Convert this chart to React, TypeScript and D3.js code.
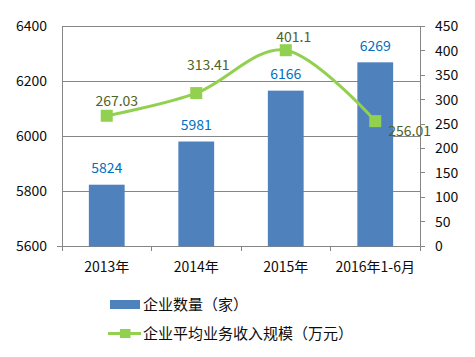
import React from "react";
import * as d3 from "d3";

const categories = ["2013年", "2014年", "2015年", "2016年1-6月"];
const companyCounts = [5824, 5981, 6166, 6269];
const avgRevenue = [267.03, 313.41, 401.1, 256.01];
const revenueLabels = ["267.03", "313.41", "401.1", "256.01"];
const leftTicks = [5600, 5800, 6000, 6200, 6400];
const rightTicks = [0, 50, 100, 150, 200, 250, 300, 350, 400, 450];
const legendNames = ["企业数量（家）", "企业平均业务收入规模（万元）"];
// label placement offsets (dx, dy, anchor) for line labels
const lineLabelPos = [
  { dx: 10, dy: -15, anchor: "middle" },
  { dx: 12, dy: -28, anchor: "middle" },
  { dx: 8, dy: -13, anchor: "middle" },
  { dx: 13, dy: 10, anchor: "start" },
];

const W = 475;
const H = 357;
const FONT = "'Noto Sans CJK SC', 'Open Sans', sans-serif";
const AXIS = "#868686";
const TEXT = "#0d0d0d";

export default function App() {
  const left = 62;
  const right = 420;
  const top = 26.3;
  const bottom = 246.3;

  const x = d3.scaleBand<string>().domain(categories).range([left, right]).paddingInner(0).paddingOuter(0);
  const yL = d3.scaleLinear().domain([5600, 6400]).range([bottom, top]);
  const yR = d3.scaleLinear().domain([0, 450]).range([bottom, top]);
  const barW = x.bandwidth() * 0.4;
  const cx = (c: string) => (x(c) as number) + x.bandwidth() / 2;

  const pts: [number, number][] = categories.map((c, i) => [cx(c), yR(avgRevenue[i])]);
  const line = d3.line().curve(d3.curveCardinal.tension(0))(pts) as string;

  return (
    <svg width={W} height={H} style={{ position: "absolute", left: 0, top: 0, background: "#fff" }} fontFamily={FONT}>
      <rect x={0} y={0} width={W} height={H} fill="#fff" />
      {/* gridlines */}
      {leftTicks.map((t) => (
        <line key={"g" + t} x1={left} x2={right} y1={yL(t)} y2={yL(t)} stroke={AXIS} strokeWidth={1} shapeRendering="crispEdges" />
      ))}
      {/* left axis */}
      <line x1={left} x2={left} y1={top} y2={bottom} stroke={AXIS} shapeRendering="crispEdges" />
      <line x1={left - 5} x2={left} y1={bottom} y2={bottom} stroke={AXIS} shapeRendering="crispEdges" />
      {leftTicks.map((t) => (
        <text key={"lt" + t} x={left - 15} y={yL(t)} dy="0.35em" textAnchor="end" fontSize={14} fill={TEXT}>
          {t}
        </text>
      ))}
      {/* right axis */}
      <line x1={right} x2={right} y1={top} y2={bottom} stroke={AXIS} shapeRendering="crispEdges" />
      {rightTicks.map((t) => (
        <g key={"rt" + t}>
          <line x1={right} x2={right + 5} y1={yR(t)} y2={yR(t)} stroke={AXIS} shapeRendering="crispEdges" />
          <text x={right + 15} y={yR(t)} dy="0.35em" textAnchor="start" fontSize={14} fill={TEXT}>
            {t}
          </text>
        </g>
      ))}
      {/* x axis */}
      <line x1={left} x2={right} y1={bottom} y2={bottom} stroke={AXIS} shapeRendering="crispEdges" />
      {categories.map((c) => (
        <line key={"xt" + c} x1={x(c) as number} x2={x(c) as number} y1={bottom} y2={bottom + 5} stroke={AXIS} shapeRendering="crispEdges" />
      ))}
      <line x1={right} x2={right} y1={bottom} y2={bottom + 5} stroke={AXIS} shapeRendering="crispEdges" />
      {categories.map((c) => (
        <text key={"xl" + c} x={cx(c)} y={bottom + 20.5} dy="0.35em" textAnchor="middle" fontSize={14} fill={TEXT}>
          {c}
        </text>
      ))}
      {/* bars */}
      {categories.map((c, i) => (
        <rect key={"b" + c} x={cx(c) - barW / 2} y={yL(companyCounts[i])} width={barW} height={bottom - yL(companyCounts[i])} fill="#4F81BD" />
      ))}
      {categories.map((c, i) => (
        <text key={"bl" + c} x={cx(c)} y={yL(companyCounts[i]) - 16.5} dy="0.35em" textAnchor="middle" fontSize={14} fill="#0070C0">
          {companyCounts[i]}
        </text>
      ))}
      {/* line */}
      <path d={line} fill="none" stroke="#92D050" strokeWidth={3} />
      {pts.map((p, i) => (
        <rect key={"m" + i} x={p[0] - 6} y={p[1] - 6} width={12} height={12} fill="#92D050" />
      ))}
      {pts.map((p, i) => (
        <text key={"ll" + i} x={p[0] + lineLabelPos[i].dx} y={p[1] + lineLabelPos[i].dy} dy="0.35em" textAnchor={lineLabelPos[i].anchor as any} fontSize={14} fill="#4F6228">
          {revenueLabels[i]}
        </text>
      ))}
      {/* legend */}
      <rect x={110} y={300} width={30} height={9} fill="#4F81BD" />
      <text x={143} y={304.5} dy="0.35em" fontSize={15} fill={TEXT}>
        {legendNames[0]}
      </text>
      <line x1={108} x2={141} y1={333.5} y2={333.5} stroke="#92D050" strokeWidth={3} />
      <rect x={120} y={329} width={10.5} height={9} fill="#92D050" />
      <text x={143} y={333.5} dy="0.35em" fontSize={15} fill={TEXT}>
        {legendNames[1]}
      </text>
    </svg>
  );
}
